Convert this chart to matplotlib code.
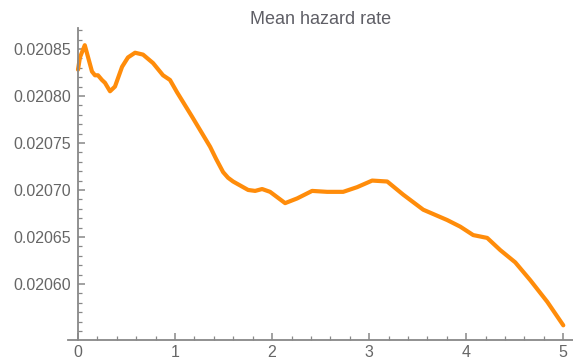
import matplotlib.pyplot as plt
from matplotlib.ticker import MultipleLocator, FormatStrFormatter

plt.rcParams['font.family'] = ['Liberation Sans', 'DejaVu Sans']

# time values and mean hazard rate
t = [0.0, 0.02, 0.07, 0.144, 0.175, 0.206, 0.247, 0.278, 0.33, 0.381, 0.454,
     0.515, 0.588, 0.670, 0.773, 0.876, 0.948, 1.02, 1.175, 1.361, 1.423,
     1.495, 1.546, 1.598, 1.753, 1.825, 1.897, 1.979, 2.134, 2.258, 2.412,
     2.567, 2.732, 2.876, 3.031, 3.186, 3.351, 3.557, 3.804, 3.938, 4.072,
     4.216, 4.351, 4.505, 4.660, 4.835, 5.0]
hazard = [0.020828, 0.020841, 0.020854, 0.020826, 0.020822, 0.020822,
          0.020817, 0.020814, 0.020805, 0.020810, 0.020831, 0.020841,
          0.020846, 0.020844, 0.020835, 0.020822, 0.020817, 0.020804,
          0.020778, 0.020746, 0.020733, 0.020719, 0.020713, 0.020709,
          0.020700, 0.020699, 0.020701, 0.020698, 0.020686, 0.020691,
          0.020699, 0.020698, 0.020698, 0.020703, 0.020710, 0.020709,
          0.020695, 0.020679, 0.020668, 0.020661, 0.020652, 0.020649,
          0.020636, 0.020623, 0.020604, 0.020581, 0.020556]
y_ticks = [0.02060, 0.02065, 0.02070, 0.02075, 0.02080, 0.02085]

gray = '#666666'
fig = plt.figure(figsize=(5.73, 3.59), dpi=100)
ax = fig.add_axes([68 / 573, 1 - 340 / 359, 505 / 573, 312 / 359])

ax.plot(t, hazard, color='#FF8C0A', lw=3, solid_capstyle='round',
        solid_joinstyle='round')

ax.set_xlim(-0.103, 5.1)
ax.set_ylim(0.0205404, 0.0208723)

for s in ['top', 'right']:
    ax.spines[s].set_visible(False)
ax.spines['left'].set_position(('data', 0))
for s in ['left', 'bottom']:
    ax.spines[s].set_color('#888888')
    ax.spines[s].set_linewidth(1.3)

ax.xaxis.set_major_locator(MultipleLocator(1))
ax.xaxis.set_minor_locator(MultipleLocator(0.2))
ax.set_yticks(y_ticks)
ax.yaxis.set_minor_locator(MultipleLocator(0.00001))
ax.yaxis.set_major_formatter(FormatStrFormatter('%.5f'))

ax.tick_params(which='both', direction='in', color='#888888', labelcolor=gray,
               labelsize=11.5)
ax.tick_params(which='major', length=5, width=1.1)
ax.tick_params(which='minor', length=3, width=0.9)
ax.tick_params(axis='y', pad=5)

ax.set_title('Mean hazard rate', color='#5f5f66', fontsize=13, pad=3)

fig.savefig('out.png', dpi=100)
